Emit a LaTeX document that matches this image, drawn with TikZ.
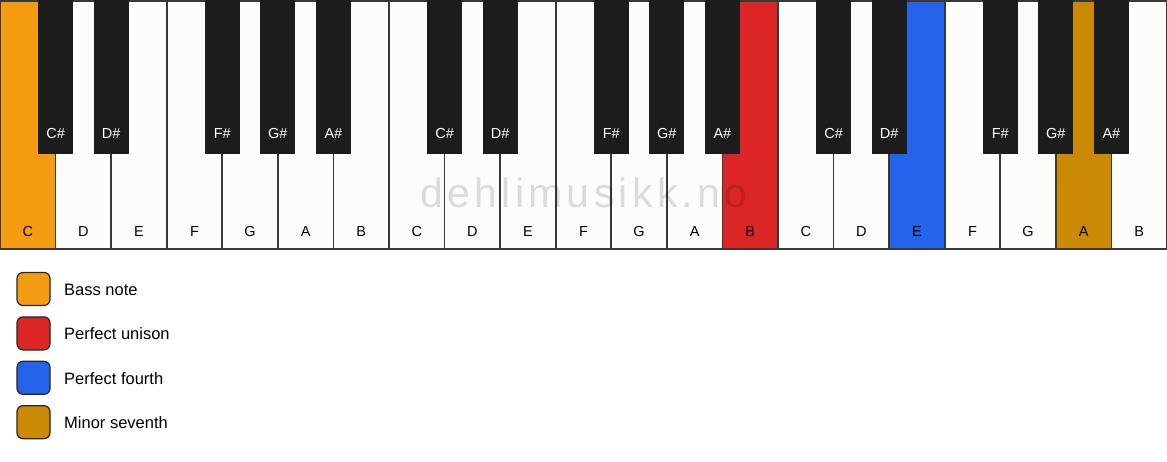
\documentclass[tikz,border=0pt]{standalone}
\usepackage{fontspec}
\setmainfont{Liberation Sans}
\definecolor{wk}{HTML}{FDFCFA}
\definecolor{bk}{HTML}{1C1C1C}
\definecolor{keyline}{HTML}{383838}
\definecolor{bass}{HTML}{F39C12}
\definecolor{unison}{HTML}{DC2626}
\definecolor{fourth}{HTML}{2563EB}
\definecolor{seventh}{HTML}{CA8A04}
\tikzset{
  whitekey/.style={draw=keyline, line width=1.7pt, inner sep=0pt, outer sep=0pt,
    minimum width=55.571pt, minimum height=248.5pt, anchor=north west},
  blackkey/.style={draw=bk, fill=bk, line width=0.8pt, inner sep=0pt, outer sep=0pt,
    minimum width=34pt, minimum height=153pt, anchor=north west},
  wlabel/.style={font=\fontsize{14.5}{16}\selectfont, text=black, anchor=base, inner sep=0pt},
  blabel/.style={font=\fontsize{14.5}{16}\selectfont, text=white, anchor=base, inner sep=0pt},
  legbox/.style={draw=black!85, line width=1.2pt, rounded corners=6pt, minimum width=33pt,
    minimum height=33pt, inner sep=0pt, anchor=center},
  legtext/.style={font=\fontsize{16.5}{18}\selectfont, anchor=west, inner sep=0pt},
}
\begin{document}
\begin{tikzpicture}[x=1pt,y=-1pt]
\fill[white] (0,0) rectangle (1167,461);
\useasboundingbox (0,0) rectangle (1167,461);
\def\w{55.571}
\foreach \n/\c [count=\i from 0] in {C/bass,D/wk,E/wk,F/wk,G/wk,A/wk,B/wk,C/wk,D/wk,E/wk,F/wk,G/wk,A/wk,B/unison,C/wk,D/wk,E/fourth,F/wk,G/wk,A/seventh,B/wk}{
  \node[whitekey, fill=\c] (w\i) at (\i*\w, 0.8) {};
  \node[wlabel] (wl\i) at (\i*\w+\w/2, 236) {\n};
}
\foreach \n/\j [count=\k] in {C/1,D/2,F/4,G/5,A/6,C/8,D/9,F/11,G/12,A/13,C/15,D/16,F/18,G/19,A/20}{
  \node[blackkey] (b\k) at (\j*\w-17, 0) {};
  \node[blabel] (bl\k) at (\j*\w, 138) {\n\#};
}
\node[font=\fontsize{41}{41}\selectfont\addfontfeature{LetterSpace=10.5}, text=black, text opacity=0.13, anchor=base, inner sep=0pt] (wm) at (584, 207) {dehlimusikk.no};
\foreach \c/\t [count=\i from 0] in {bass/Bass note, unison/Perfect unison, fourth/Perfect fourth, seventh/Minor seventh}{
  \node[legbox, fill=\c] (lb\i) at (33.5, 289+\i*44.4) {};
  \node[legtext] (lt\i) at (64, 289.5+\i*44.4) {\t};
}
\end{tikzpicture}
\end{document}
